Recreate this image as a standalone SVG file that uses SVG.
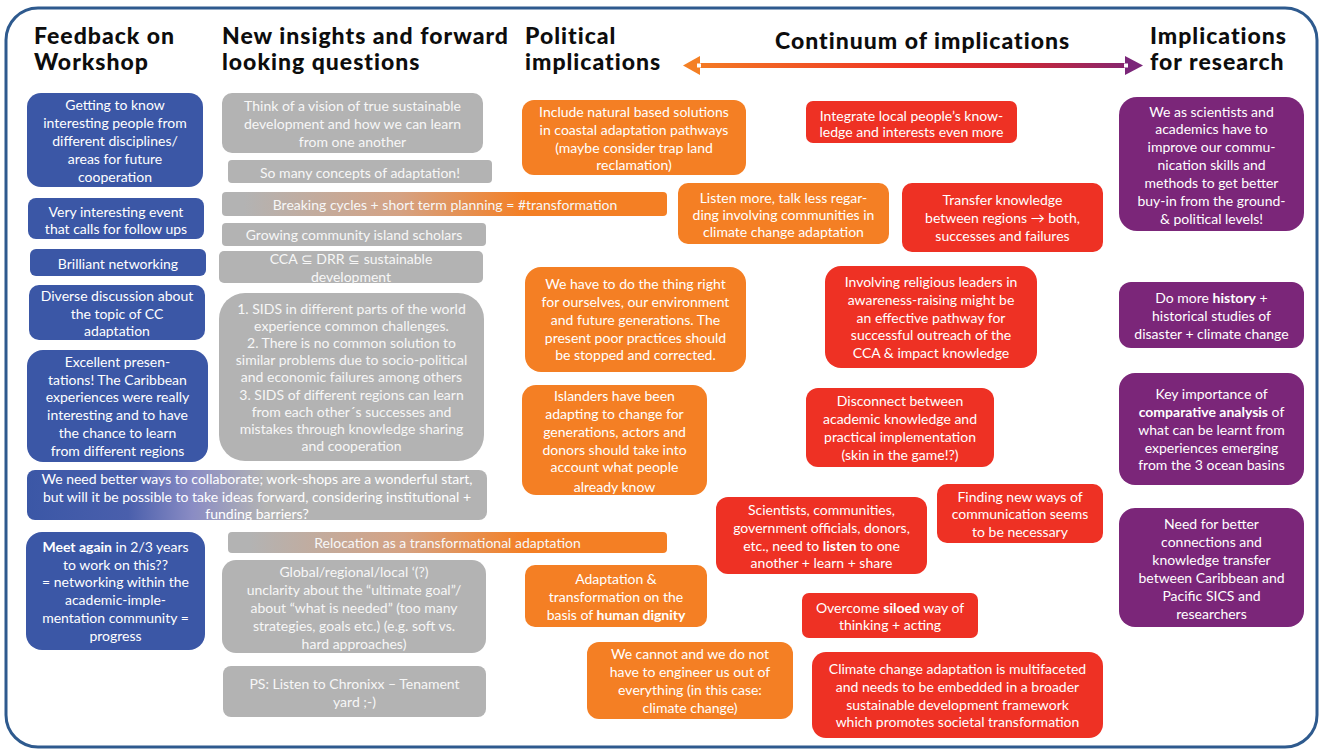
<svg xmlns="http://www.w3.org/2000/svg" width="1324" height="751" viewBox="0 0 1324 751">
<style>
.hd{font-family:Lato,"Noto Sans",sans-serif;font-weight:900;font-size:23px;letter-spacing:1px;fill:#0d0d0d}
.t{font-family:Lato,"Open Sans",sans-serif;font-size:14px;fill:#ffffff;text-anchor:middle}
.tg{font-family:Lato,"Open Sans",sans-serif;font-size:14px;fill:#f7f7f7;text-anchor:middle}
.b{font-weight:bold}
.blue{fill:#3b57a6}
.gray{fill:#b3b3b3}
.org{fill:#f47f24}
.red{fill:#ee3124}
.pur{fill:#7b2679}
</style>
<defs>
<linearGradient id="gBG" x1="0" y1="0" x2="1" y2="0">
<stop offset="0" stop-color="#3b57a6"/><stop offset="0.22" stop-color="#4a5fac"/><stop offset="0.36" stop-color="#8a8cc4"/><stop offset="0.52" stop-color="#b3b3b3"/><stop offset="1" stop-color="#b3b3b3"/>
</linearGradient>
<linearGradient id="gGO" x1="0" y1="0" x2="1" y2="0">
<stop offset="0" stop-color="#b3b3b3"/><stop offset="0.05" stop-color="#b3b3b3"/><stop offset="0.4" stop-color="#d5a283"/><stop offset="0.68" stop-color="#f47f24"/><stop offset="1" stop-color="#f47f24"/>
</linearGradient>
<linearGradient id="gArr" gradientUnits="userSpaceOnUse" x1="683" y1="0" x2="1143" y2="0">
<stop offset="0" stop-color="#f47f24"/><stop offset="0.5" stop-color="#ee3124"/><stop offset="0.72" stop-color="#cf2632"/><stop offset="1" stop-color="#7b2679"/>
</linearGradient>
</defs>
<rect x="0" y="0" width="1324" height="751" fill="#ffffff"/>
<rect id="frame" x="6" y="8" width="1311" height="739" rx="32" fill="none" stroke="#2e5a8e" stroke-width="3"/>

<g id="headers">
<text class="hd" x="34" y="44">Feedback on</text>
<text class="hd" x="34" y="70">Workshop</text>
<text class="hd" x="222" y="44">New insights and forward</text>
<text class="hd" x="222" y="70">looking questions</text>
<text class="hd" x="525" y="44">Political</text>
<text class="hd" x="525" y="70">implications</text>
<text class="hd" x="775" y="49">Continuum of implications</text>
<text class="hd" x="1150" y="44">Implications</text>
<text class="hd" x="1150" y="70">for research</text>
</g>

<g id="connectors">
<rect x="698" y="63" width="429" height="5" fill="url(#gArr)"/>
<polygon points="683,65.5 700,56 700,75" fill="#f47f24"/>
<rect x="697" y="63.5" width="4" height="4" fill="#ffffff"/>
<polygon points="1143,65.5 1125,56 1125,75" fill="#7b2679"/>
<rect x="1124" y="63.5" width="4" height="4" fill="#ffffff"/>
</g>

<!-- Feedback column -->
<g id="fb1"><rect class="blue" x="27" y="93" width="176" height="94" rx="14"/>
<text class="t"><tspan x="115" y="110">Getting to know</tspan><tspan x="115" y="128">interesting people from</tspan><tspan x="115" y="146">different disciplines/</tspan><tspan x="115" y="164">areas for future</tspan><tspan x="115" y="182">cooperation</tspan></text></g>
<g id="fb2"><rect class="blue" x="28" y="198" width="176" height="41" rx="8"/>
<text class="t"><tspan x="116" y="217">Very interesting event</tspan><tspan x="116" y="234">that calls for follow ups</tspan></text></g>
<g id="fb3"><rect class="blue" x="30" y="249" width="176" height="27" rx="6"/>
<text class="t"><tspan x="118" y="269">Brilliant networking</tspan></text></g>
<g id="fb4"><rect class="blue" x="29" y="285" width="176" height="55" rx="10"/>
<text class="t"><tspan x="117" y="301">Diverse discussion about</tspan><tspan x="117" y="319">the topic of CC</tspan><tspan x="117" y="336">adaptation</tspan></text></g>
<g id="fb5"><rect class="blue" x="27" y="350" width="181" height="112" rx="16"/>
<text class="t"><tspan x="117.5" y="367">Excellent presen-</tspan><tspan x="117.5" y="385">tations! The Caribbean</tspan><tspan x="117.5" y="402">experiences were really</tspan><tspan x="117.5" y="420">interesting and to have</tspan><tspan x="117.5" y="438">the chance to learn</tspan><tspan x="117.5" y="456">from different regions</tspan></text></g>
<g id="fb6"><rect x="27" y="470" width="460" height="50" rx="8" fill="url(#gBG)"/>
<text class="t"><tspan x="257" y="484">We need better ways to collaborate; work-shops are a wonderful start,</tspan><tspan x="257" y="502">but will it be possible to take ideas forward, considering institutional +</tspan><tspan x="257" y="519">funding barriers?</tspan></text></g>
<g id="fb7"><rect class="blue" x="26" y="532" width="179" height="118" rx="16"/>
<text class="t"><tspan x="115.5" y="552"><tspan class="b">Meet again</tspan> in 2/3 years</tspan><tspan x="115.5" y="570">to work on this??</tspan><tspan x="115.5" y="587">= networking within the</tspan><tspan x="115.5" y="605">academic-imple-</tspan><tspan x="115.5" y="623">mentation community =</tspan><tspan x="115.5" y="641">progress</tspan></text></g>

<!-- New insights column -->
<g id="ni1"><rect class="gray" x="222" y="93" width="261" height="60" rx="10"/>
<text class="tg"><tspan x="352.5" y="111">Think of a vision of true sustainable</tspan><tspan x="352.5" y="129">development and how we can learn</tspan><tspan x="352.5" y="147">from one another</tspan></text></g>
<g id="ni2"><rect class="gray" x="228" y="160" width="264" height="23" rx="4"/>
<text class="tg"><tspan x="360" y="178">So many concepts of adaptation!</tspan></text></g>
<g id="ni3"><rect x="222" y="192" width="445" height="24" rx="4" fill="url(#gGO)"/>
<text class="tg"><tspan x="445" y="210">Breaking cycles + short term planning = #transformation</tspan></text></g>
<g id="ni4"><rect class="gray" x="222" y="223" width="264" height="23" rx="4"/>
<text class="tg"><tspan x="354" y="240">Growing community island scholars</tspan></text></g>
<g id="ni5"><rect class="gray" x="219" y="251" width="264" height="32" rx="5"/>
<text class="tg"><tspan x="351" y="264">CCA ⊆ DRR ⊆ sustainable</tspan><tspan x="351" y="282">development</tspan></text></g>
<g id="ni6"><rect class="gray" x="219" y="293" width="265" height="168" rx="26"/>
<text class="tg"><tspan x="351.5" y="314">1. SIDS in different parts of the world</tspan><tspan x="351.5" y="331">experience common challenges.</tspan><tspan x="351.5" y="348">2. There is no common solution to</tspan><tspan x="351.5" y="365">similar problems due to socio-political</tspan><tspan x="351.5" y="382">and economic failures among others</tspan><tspan x="351.5" y="400">3. SIDS of different regions can learn</tspan><tspan x="351.5" y="417">from each other´s successes and</tspan><tspan x="351.5" y="434">mistakes through knowledge sharing</tspan><tspan x="351.5" y="451">and cooperation</tspan></text></g>
<g id="ni7"><rect x="228" y="532" width="439" height="21" rx="4" fill="url(#gGO)"/>
<text class="tg"><tspan x="447.5" y="548">Relocation as a transformational adaptation</tspan></text></g>
<g id="ni8"><rect class="gray" x="222" y="560" width="264" height="93" rx="14"/>
<text class="tg"><tspan x="354" y="577">Global/regional/local ‘(?)</tspan><tspan x="354" y="595">unclarity about the “ultimate goal”/</tspan><tspan x="354" y="613">about “what is needed” (too many</tspan><tspan x="354" y="631">strategies, goals etc.) (e.g. soft vs.</tspan><tspan x="354" y="649">hard approaches)</tspan></text></g>
<g id="ni9"><rect class="gray" x="223" y="666" width="263" height="51" rx="8"/>
<text class="tg"><tspan x="354.5" y="689">PS: Listen to Chronixx – Tenament</tspan><tspan x="354.5" y="707">yard ;-)</tspan></text></g>

<!-- Political (orange) -->
<g id="po1"><rect class="org" x="522" y="100" width="224" height="75" rx="12"/>
<text class="t"><tspan x="634" y="117">Include natural based solutions</tspan><tspan x="634" y="135">in coastal adaptation pathways</tspan><tspan x="634" y="153">(maybe consider trap land</tspan><tspan x="634" y="170">reclamation)</tspan></text></g>
<g id="po2"><rect class="org" x="678" y="183" width="211" height="61" rx="10"/>
<text class="t"><tspan x="783.5" y="203">Listen more, talk less regar-</tspan><tspan x="783.5" y="220">ding involving communities in</tspan><tspan x="783.5" y="237">climate change adaptation</tspan></text></g>
<g id="po3"><rect class="org" x="525" y="267" width="221" height="105" rx="16"/>
<text class="t"><tspan x="635.5" y="289">We have to do the thing right</tspan><tspan x="635.5" y="307">for ourselves, our environment</tspan><tspan x="635.5" y="325">and future generations. The</tspan><tspan x="635.5" y="343">present poor practices should</tspan><tspan x="635.5" y="360">be stopped and corrected.</tspan></text></g>
<g id="po4"><rect class="org" x="522" y="385" width="185" height="110" rx="14"/>
<text class="t"><tspan x="614.5" y="401">Islanders have been</tspan><tspan x="614.5" y="419">adapting to change for</tspan><tspan x="614.5" y="437">generations, actors and</tspan><tspan x="614.5" y="455">donors should take into</tspan><tspan x="614.5" y="472">account what people</tspan><tspan x="614.5" y="492">already know</tspan></text></g>
<g id="po5"><rect class="org" x="525" y="565" width="182" height="62" rx="10"/>
<text class="t"><tspan x="616" y="584">Adaptation &amp;</tspan><tspan x="616" y="602">transformation on the</tspan><tspan x="616" y="620">basis of <tspan class="b">human dignity</tspan></tspan></text></g>
<g id="po6"><rect class="org" x="587" y="642" width="206" height="77" rx="12"/>
<text class="t"><tspan x="690" y="659">We cannot and we do not</tspan><tspan x="690" y="677">have to engineer us out of</tspan><tspan x="690" y="695">everything (in this case:</tspan><tspan x="690" y="713">climate change)</tspan></text></g>

<!-- Continuum (red) -->
<g id="re1"><rect class="red" x="806" y="101" width="211" height="42" rx="7"/>
<text class="t"><tspan x="911.5" y="121">Integrate local people’s know-</tspan><tspan x="911.5" y="137">ledge and interests even more</tspan></text></g>
<g id="re2"><rect class="red" x="902" y="183" width="201" height="69" rx="10"/>
<text class="t"><tspan x="1002.5" y="205">Transfer knowledge</tspan><tspan x="1002.5" y="223">between regions → both,</tspan><tspan x="1002.5" y="241">successes and failures</tspan></text></g>
<g id="re3"><rect class="red" x="825" y="266" width="212" height="102" rx="16"/>
<text class="t"><tspan x="931" y="287">Involving religious leaders in</tspan><tspan x="931" y="305">awareness-raising might be</tspan><tspan x="931" y="323">an effective pathway for</tspan><tspan x="931" y="340">successful outreach of the</tspan><tspan x="931" y="358">CCA &amp; impact knowledge</tspan></text></g>
<g id="re4"><rect class="red" x="806" y="388" width="188" height="79" rx="12"/>
<text class="t"><tspan x="900" y="406">Disconnect between</tspan><tspan x="900" y="424">academic knowledge and</tspan><tspan x="900" y="442">practical implementation</tspan><tspan x="900" y="460">(skin in the game!?)</tspan></text></g>
<g id="re5"><rect class="red" x="937" y="484" width="166" height="59" rx="10"/>
<text class="t"><tspan x="1020" y="502">Finding new ways of</tspan><tspan x="1020" y="519">communication seems</tspan><tspan x="1020" y="537">to be necessary</tspan></text></g>
<g id="re6"><rect class="red" x="716" y="497" width="211" height="77" rx="12"/>
<text class="t"><tspan x="821.5" y="515">Scientists, communities,</tspan><tspan x="821.5" y="533">government officials, donors,</tspan><tspan x="821.5" y="551">etc., need to <tspan class="b">listen</tspan> to one</tspan><tspan x="821.5" y="568">another + learn + share</tspan></text></g>
<g id="re7"><rect class="red" x="802" y="593" width="176" height="45" rx="7"/>
<text class="t"><tspan x="890" y="613">Overcome <tspan class="b">siloed</tspan> way of</tspan><tspan x="890" y="630">thinking + acting</tspan></text></g>
<g id="re8"><rect class="red" x="812" y="652" width="291" height="86" rx="14"/>
<text class="t"><tspan x="957.5" y="674">Climate change adaptation is multifaceted</tspan><tspan x="957.5" y="692">and needs to be embedded in a broader</tspan><tspan x="957.5" y="710">sustainable development framework</tspan><tspan x="957.5" y="727">which promotes societal transformation</tspan></text></g>

<!-- Research (purple) -->
<g id="rs1"><rect class="pur" x="1119" y="97" width="185" height="134" rx="18"/>
<text class="t"><tspan x="1211.5" y="117">We as scientists and</tspan><tspan x="1211.5" y="134">academics have to</tspan><tspan x="1211.5" y="152">improve our commu-</tspan><tspan x="1211.5" y="170">nication skills and</tspan><tspan x="1211.5" y="188">methods to get better</tspan><tspan x="1211.5" y="206">buy-in from the ground-</tspan><tspan x="1211.5" y="224">&amp; political levels!</tspan></text></g>
<g id="rs2"><rect class="pur" x="1119" y="282" width="185" height="66" rx="12"/>
<text class="t"><tspan x="1211.5" y="303">Do more <tspan class="b">history</tspan> +</tspan><tspan x="1211.5" y="321">historical studies of</tspan><tspan x="1211.5" y="339">disaster + climate change</tspan></text></g>
<g id="rs3"><rect class="pur" x="1119" y="373" width="185" height="112" rx="16"/>
<text class="t"><tspan x="1211.5" y="399">Key importance of</tspan><tspan x="1211.5" y="417"><tspan class="b">comparative analysis</tspan> of</tspan><tspan x="1211.5" y="435">what can be learnt from</tspan><tspan x="1211.5" y="453">experiences emerging</tspan><tspan x="1211.5" y="470">from the 3 ocean basins</tspan></text></g>
<g id="rs4"><rect class="pur" x="1119" y="508" width="185" height="119" rx="16"/>
<text class="t"><tspan x="1211.5" y="529">Need for better</tspan><tspan x="1211.5" y="547">connections and</tspan><tspan x="1211.5" y="565">knowledge transfer</tspan><tspan x="1211.5" y="583">between Caribbean and</tspan><tspan x="1211.5" y="601">Pacific SICS and</tspan><tspan x="1211.5" y="619">researchers</tspan></text></g>
</svg>
